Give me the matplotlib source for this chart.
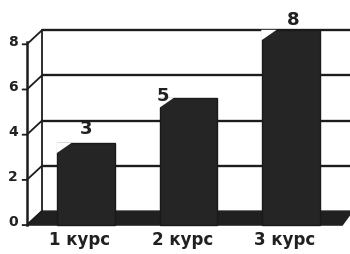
import matplotlib
matplotlib.use("Agg")
import matplotlib.pyplot as plt
from matplotlib.patches import Polygon

plt.rcParams['font.family'] = ['DejaVu Sans']

categories = ["1 курс", "2 курс", "3 курс"]
values = [3, 5, 8]
yticks = [0, 2, 4, 6, 8]

fig = plt.figure(figsize=(3.5, 2.54), dpi=100)
ax = fig.add_axes([0, 0, 1, 1])
ax.set_xlim(-0.839, 2.576)
ax.set_ylim(-1.90, 9.34)
ax.axis('off')

dx, dy = -0.147, -0.62   # depth offset (front vs back wall)
xl, xr = -0.43, 2.60
ink = '#1c1c1c'

# back wall gridlines
for t in yticks[1:]:
    ax.plot([xl, xr], [t, t], color=ink, lw=1.7, solid_capstyle='butt', zorder=3.6)
ax.plot([xl, xl], [0, 8], color=ink, lw=1.3)

# floor
floor = Polygon([(xl, 0), (xr, 0), (2.50, dy), (xl + dx, dy)], closed=True,
                facecolor='#202020', edgecolor='#202020')
ax.add_patch(floor)

# bars
x = list(range(len(categories)))
bw = 0.56
bars = ax.bar(x, [v - dy for v in values], bottom=dy, width=bw,
              color='#252525', edgecolor='#1a1a1a', zorder=4)
# chamfered top-left corner (3D look)
for b in bars:
    left = b.get_x()
    top = b.get_y() + b.get_height()
    ax.add_patch(Polygon([(left - 0.01, top + 0.02), (left + 0.14, top + 0.02), (left - 0.01, top - 0.45)],
                         closed=True, facecolor='white', edgecolor='none', zorder=4.5))

# front axis
ax.plot([xl + dx, xl + dx], [dy, 8 + dy + 0.1], color=ink, lw=1.8, zorder=5)
for t in yticks:
    ax.plot([xl + dx - 0.04, xl + dx, xl], [t + dy, t + dy, t], color=ink, lw=1.3, zorder=5)
    ax.text(-0.712, t + dy + 0.12, str(t), ha='center', va='center',
            fontsize=10, fontweight='bold', color='#202020')

# value labels
lab_pos = [(0.0, 3.64), (0.75, 5.09), (2.02, 8.45)]
for (lx, ly), v in zip(lab_pos, values):
    ax.text(lx, ly, str(v), ha='center', va='center', fontsize=13,
            fontweight='bold', color='#202020', zorder=6)

# category labels
for xi, c in zip(x, categories):
    ax.text(xi - 0.06, -1.28, c, ha='center', va='center', fontsize=12,
            fontweight='bold', color='#202020')

fig.savefig("out.png", dpi=100)
